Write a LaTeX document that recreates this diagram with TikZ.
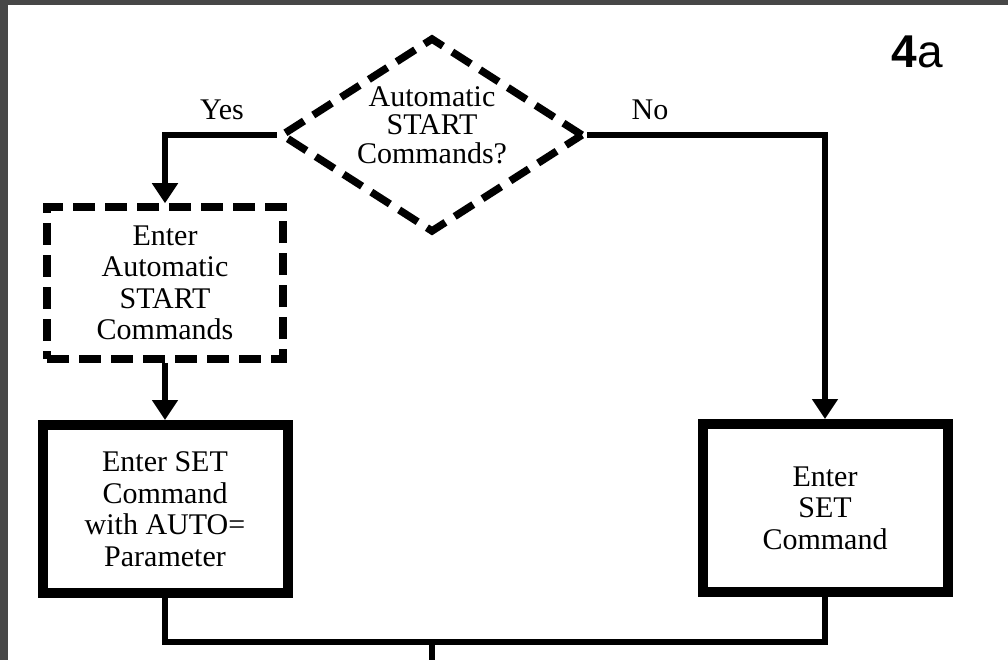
\documentclass[tikz,border=0pt]{standalone}
\usepackage{fontspec}
\setmainfont{Liberation Serif}
\newfontfamily\tagfont{Liberation Sans}
\usetikzlibrary{shapes.geometric,arrows.meta}
\def\boxfont{\fontsize{30}{31.5}\selectfont}
\def\askfont{\fontsize{30}{28.5}\selectfont}
\def\tagsize{\fontsize{46}{50}\selectfont}

\begin{document}
\begin{tikzpicture}[x=1pt, y=-1pt,
  flow/.style={line width=5.5pt, -{Triangle[length=20pt,width=25pt]}},
  link/.style={line width=5.5pt},
  decision/.style={diamond, draw, line width=7.5pt, dash pattern=on 22pt off 11pt, minimum width=303pt, minimum height=195pt, inner sep=0pt},
  optbox/.style={rectangle, draw, line width=7.5pt, dash pattern=on 22pt off 10pt, minimum width=236pt, minimum height=152pt, align=center, font=\boxfont},
  stepbox/.style={rectangle, draw, line width=10pt, minimum width=245pt, minimum height=168pt, align=center, font=\boxfont},
  word/.style={font=\boxfont, align=center, inner sep=0pt}]
	\useasboundingbox (0,0) rectangle (1008,660);
	\fill[black!72] (0,0) rectangle (8,660);
	\fill[black!72] (0,0) rectangle (1008,5);
	\node[decision] (dec) at (432,135) {};
	\node[word, font=\askfont] (dectext) at (432,125) {Automatic\\START\\Commands?};
	\node[optbox] (auto) at (165,283) {Enter\\Automatic\\START\\Commands};
	\node[stepbox] (setauto) at (165,509) {Enter SET\\Command\\with AUTO=\\Parameter};
	\node[stepbox] (set) at (825,508) {Enter\\SET\\Command};
	\node[word] (yes) at (222,110) {Yes};
	\node[word] (no) at (650,110) {No};
	\node[inner sep=0pt] (tag) at (917,52) {\tagfont\tagsize\textbf{4}a};
	\coordinate (join) at (432,642);
	\coordinate (out) at (432,665);
	\draw[flow] (dec.west) -| (auto.north);
	\draw[flow] (dec.east) -| (set.north);
	\draw[flow] (auto.south) -- (setauto.north);
	\draw[link] (setauto.south) |- (join) -| (set.south);
	\draw[link] (join) -- (out);
\end{tikzpicture}
\end{document}
